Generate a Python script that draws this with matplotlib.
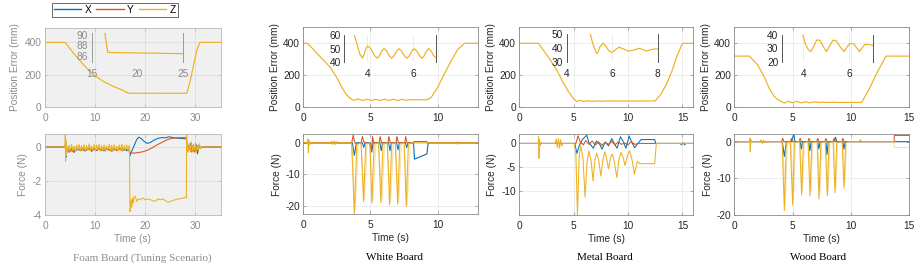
import numpy as np
import matplotlib
matplotlib.use("Agg")
import matplotlib.pyplot as plt
from matplotlib.lines import Line2D

plt.rcParams['font.family'] = ['Liberation Sans', 'DejaVu Sans']
plt.rcParams['axes.unicode_minus'] = False

C_X = '#0072BD'
C_Y = '#D95319'
C_Z = '#EDB120'

W, H = 919, 268

# ---------------- foam board (tuning scenario) ----------------
foam_pos_z = [(0, 400), (4.0, 400), (5.67, 334), (7.67, 262), (9.67, 200), (11.67, 159),
              (13.67, 128), (15.67, 103), (16.38, 91), (16.75, 86.6), (18, 86.55), (20, 86.5),
              (22, 86.45), (25, 86.35), (28.3, 86.3), (29.0, 169), (30.3, 355), (30.9, 400), (35, 400)]

foam_fx_pre = [(0, 0.0), (4.0, 0.0), (4.1, 0.3), (4.2, -0.6)]
foam_fx_noise = [-0.05, -0.2, -0.1, -0.25, -0.12, -0.18, -0.08, -0.22, -0.15, -0.1, -0.25, -0.12, -0.2,
                 -0.08, -0.18, -0.22, -0.1, -0.16, -0.24, -0.12, -0.2, -0.1, -0.18, -0.14, -0.22, -0.15]
foam_fx_post = [(16.9, -0.55), (17.2, -0.3), (17.8, 0.1), (18.3, 0.45), (18.7, 0.58), (19.2, 0.5),
                (19.7, 0.35), (20.3, 0.22), (20.9, 0.25), (21.6, 0.38), (22.4, 0.5), (23.2, 0.55),
                (24.0, 0.55), (24.8, 0.6), (25.6, 0.55), (26.5, 0.52), (27.4, 0.5), (28.2, 0.48), (28.3, 0.0)]
foam_fx_noise2 = [0.15, -0.1, 0.2, -0.15, 0.1, -0.2, 0.15, -0.4, 0.1, -0.1]

foam_fy_pre = [(0, 0.0), (4.0, 0.0), (4.15, -0.2)]
foam_fy_noise = [-0.25, -0.3, -0.2, -0.32, -0.15, -0.12, -0.2, -0.1, -0.18, -0.08, -0.15, -0.12, -0.2,
                 -0.1, -0.16, -0.08, -0.14, -0.18, -0.1, -0.15, -0.2, -0.12, -0.1, -0.18, -0.14, -0.2]
foam_fy_post = [(16.9, -0.3), (17.5, -0.36), (18.5, -0.33), (19.5, -0.28), (20.5, -0.18), (21.5, -0.02),
                (22.5, 0.15), (23.5, 0.3), (24.5, 0.45), (25.5, 0.52), (26.5, 0.55), (28.2, 0.55), (28.3, 0.0)]
foam_fy_noise2 = [-0.1, 0.1, -0.2, -0.3, -0.15, -0.3, -0.1, -0.25, 0.0, -0.05]

foam_fz_pre = [(0, 0.0), (4.0, 0.0), (4.05, 0.8), (4.1, -0.84), (4.15, 0.45), (4.2, -0.5), (4.25, 0.2)]
foam_fz_noise = [0.18, -0.25, 0.1, -0.22, 0.15, -0.2, 0.05, -0.26, 0.12, -0.18, 0.16, -0.24, 0.08,
                 -0.2, 0.14, -0.27, 0.1, -0.19, 0.18, -0.23, 0.06, -0.21, 0.15, -0.25, 0.11, -0.17,
                 0.17, -0.24, 0.08, -0.22, 0.13, -0.26, 0.07, -0.2, 0.16, -0.23, 0.1, -0.25, 0.14,
                 -0.19, 0.05, -0.24, 0.12, -0.21, 0.17, -0.26, 0.09, -0.2, 0.13, -0.23, 0.1]
foam_fz_post = [(16.85, -0.2), (16.95, -3.8), (17.05, -3.6), (17.15, -3.1), (17.3, -3.55), (17.45, -3.0),
                (17.6, -3.3), (17.8, -2.9), (18.05, -2.95), (18.3, -3.2), (18.6, -3.05), (19.0, -3.1),
                (19.5, -3.0), (20.0, -3.1), (20.5, -3.05), (21.0, -3.1), (21.5, -3.15), (22.0, -3.2),
                (22.5, -3.05), (23.0, -3.1), (23.5, -3.05), (24.0, -3.15), (24.5, -3.25), (25.0, -3.2),
                (25.5, -3.15), (26.0, -3.1), (26.5, -3.05), (27.0, -3.05), (27.5, -3.0), (28.0, -2.95),
                (28.2, -3.0), (28.25, 0.7), (28.32, -0.3)]
foam_fz_noise2 = [0.25, -0.3, 0.2, -0.15, 0.3, -0.25, 0.15, -0.2, 0.25, -0.3, 0.1, -0.15, 0.2, -0.1]
foam_tail = [(31.2, 0.0), (35, 0.0)]

# ---------------- white board ----------------
white_pos_z = [(0, 400), (0.3, 400), (0.6, 375), (1.0, 338), (1.5, 295), (2.0, 250), (2.5, 185),
               (2.9, 120), (3.2, 80), (3.44, 60), (3.56, 53), (3.68, 46), (3.79, 43), (3.87, 46),
               (3.95, 50.5), (4.02, 52), (4.16, 50), (4.31, 45), (4.45, 43), (4.55, 45), (4.64, 48.5),
               (4.74, 50), (4.85, 48.2), (4.96, 44.8), (5.07, 43), (5.18, 44.8), (5.28, 48.2), (5.39, 50),
               (5.5, 48.2), (5.62, 44.8), (5.73, 43), (5.84, 44.8), (5.94, 48.2), (6.05, 50), (6.16, 48.2),
               (6.28, 44.8), (6.39, 43), (6.49, 44.8), (6.58, 48.2), (6.68, 50), (6.79, 48.2), (6.9, 44.8),
               (7.01, 43), (7.12, 44.8), (7.23, 48.2), (7.34, 49.5), (7.45, 48), (7.56, 45), (7.68, 44),
               (7.8, 46), (8.0, 48), (8.3, 46.5), (8.7, 47.5), (9.2, 47), (9.5, 60), (10.0, 125),
               (10.5, 210), (11.0, 290), (11.5, 362), (12.0, 400), (13, 400)]
white_fx = [(0, 0), (3.65, 0), (3.8, -4.0), (3.95, 0), (4.4, 0), (4.5, -1.5), (4.6, 0), (5.0, 0),
            (5.1, -2.8), (5.2, 0), (5.7, 0), (5.8, -2.5), (5.9, 0), (6.35, 0), (6.45, -2.5), (6.55, 0),
            (6.95, 0), (7.05, -2.2), (7.15, 0), (7.6, 0), (7.7, -1.5), (7.8, 0), (8.2, 0), (8.28, -5.2),
            (9.2, -3.5), (9.3, 0), (13, 0)]
white_fy = [(0, 0), (3.6, 0), (3.72, 2.5), (3.8, 0.5), (3.9, -0.3), (4.3, 0), (4.4, 2.0), (4.5, 0.3),
            (4.7, 0), (5.0, -0.5), (5.08, -3.0), (5.15, 2.0), (5.25, 0), (5.65, 0), (5.72, 2.0), (5.82, 0),
            (6.3, 0), (6.37, 2.0), (6.47, 0), (6.9, 0), (6.97, 2.0), (7.07, 0), (7.55, 0), (7.62, 2.0),
            (7.72, 0), (8.2, 0), (8.25, 0.4), (9.2, 0.4), (9.25, 0), (13, 0)]
white_fz = [(0, 0), (0.3, 0), (0.34, 1.2), (0.38, -3.2), (0.42, 0.8), (0.48, -0.6), (0.55, 0.2),
            (0.65, 0), (2.0, 0), (2.1, 0.5), (2.2, -0.6), (2.3, 0.7), (2.4, -0.5), (2.5, 0.4), (2.6, 0),
            (3.6, 0), (3.8, -22.7), (3.98, -0.5), (4.3, 0), (4.48, -18.6), (4.65, -0.3), (4.95, 0),
            (5.1, -19.2), (5.27, -0.3), (5.6, 0), (5.77, -19.0), (5.93, -0.3), (6.25, 0), (6.42, -19.7),
            (6.58, -0.3), (6.85, 0), (7.02, -19.5), (7.18, -0.3), (7.5, 0), (7.66, -20.2), (7.82, -0.3),
            (8.1, 0), (11.3, 0), (11.4, -0.4), (11.5, 0.3), (11.6, -0.4), (11.7, 0), (13, 0)]
white_fz_raw = [(0, 0), (3.6, 0), (3.85, -21.5), (4.1, 0), (4.3, 0), (4.55, -18), (4.75, 0), (4.95, 0),
                (5.18, -18.5), (5.4, 0), (5.6, 0), (5.85, -18.5), (6.05, 0), (6.25, 0), (6.5, -19),
                (6.7, 0), (6.85, 0), (7.1, -19), (7.3, 0), (7.5, 0), (7.74, -19.5), (7.95, 0), (8.2, 0),
                (8.22, -5.2), (9.2, -3.6), (9.22, 0), (13, 0)]

# ---------------- metal board ----------------
metal_pos_z = [(0, 400), (1.75, 400), (2.5, 330), (3.0, 280), (3.5, 225), (4.0, 160), (4.5, 100),
               (5.04, 50), (5.15, 43), (5.31, 36), (5.38, 37), (5.45, 40.5), (5.6, 43.5), (5.72, 41.5),
               (5.85, 38), (5.97, 36.8), (6.1, 38.2), (6.3, 40.6), (6.5, 39.3), (6.7, 37.7), (6.95, 38.5),
               (7.2, 39.8), (7.35, 38.8), (7.5, 37.8), (7.65, 38.5), (7.8, 39.2), (8.0, 39.3), (9.0, 39.5),
               (10.0, 39), (11.0, 39.5), (12.5, 40), (13.0, 80), (13.5, 140), (14.0, 220), (14.5, 320),
               (15.0, 400), (16, 400)]
metal_fx = [(0, 0), (1.8, 0), (1.85, -0.4), (1.95, 0), (5.1, 0), (5.3, -2.1), (5.5, -0.5), (5.8, 0.8),
            (6.2, 1.7), (6.4, 0.2), (6.8, -1.0), (7.1, 0.5), (7.4, -0.2), (7.6, -1.2), (7.9, 0.3),
            (8.2, -0.5), (8.5, 1.0), (8.8, -0.3), (9.0, -1.0), (9.3, 1.4), (9.6, 0.2), (9.8, -1.0),
            (10.1, 1.5), (10.4, 0.0), (10.6, -0.9), (10.9, 0.0), (11.2, 0.8), (12.45, 0.8), (12.55, 0),
            (14.8, 0), (14.9, -0.3), (15.1, 0.2), (15.2, -0.3), (15.3, 0), (16, 0)]
metal_fy = [(0, 0), (5.2, 0), (5.4, 1.6), (5.6, 0.3), (5.9, -0.3), (6.1, 0.6), (6.4, -0.2), (6.7, 0.5),
            (7.0, -0.3), (7.3, 0.3), (7.6, -0.4), (7.9, 0.2), (8.2, -0.2), (8.5, 0.4), (8.8, -0.3),
            (9.1, 0.3), (9.4, -0.2), (9.7, 0.1), (10.0, -0.3), (10.3, 0.4), (10.6, -0.2), (11.0, 0.0),
            (12.5, 0), (16, 0)]
metal_fz = [(0, 0), (1.75, 0), (1.78, 1.4), (1.82, -3.1), (1.86, 0.8), (1.92, -0.5), (2.0, 0.2),
            (2.1, 0), (3.3, 0), (3.4, 0.9), (3.5, -0.9), (3.6, 1.0), (3.7, -1.0), (3.8, 0.8), (3.9, -0.5),
            (4.0, 0), (5.05, 0), (5.2, -2.0), (5.35, -14.9), (5.5, -3.0), (5.65, -0.5), (5.85, -3.0),
            (6.05, -11.2), (6.22, -4.0), (6.4, -1.6), (6.6, -3.5), (6.78, -7.8), (6.95, -3.5),
            (7.12, -2.0), (7.3, -3.5), (7.5, -6.8), (7.68, -3.5), (7.85, -1.8), (8.02, -3.0),
            (8.2, -5.3), (8.38, -3.0), (8.55, -2.2), (8.75, -4.0), (8.97, -7.1), (9.15, -3.5),
            (9.35, -1.9), (9.55, -3.0), (9.73, -4.6), (9.95, -2.5), (10.15, -1.5), (10.38, -3.5),
            (10.58, -6.4), (10.85, -3.8), (11.1, -4.2), (12.45, -4.2), (12.6, 0), (14.9, 0), (15.0, -0.3),
            (15.1, 0.2), (15.2, 0), (16, 0)]

# ---------------- wood board ----------------
wood_pos_z = [(0, 320), (1.3, 320), (2.0, 265), (2.5, 200), (3.0, 118), (3.4, 70), (3.7, 50),
              (3.97, 40), (4.1, 33), (4.22, 29), (4.33, 27.7), (4.45, 31.5), (4.58, 36.2), (4.72, 36.2),
              (4.85, 32), (5.01, 27.7), (5.15, 32), (5.3, 36.2), (5.45, 35.5), (5.62, 31), (5.78, 27.7),
              (5.9, 31), (6.03, 33.6), (6.2, 33.5), (6.33, 30.5), (6.46, 27.7), (6.57, 30.5), (6.68, 33),
              (6.85, 33), (7.04, 32.3), (7.3, 30), (7.6, 32), (8.0, 30), (8.5, 31.5), (9.0, 30),
              (10.0, 30.5), (10.9, 30), (11.5, 105), (12.3, 225), (13.0, 320), (15, 320)]
wood_fx = [(0, 0), (4.1, 0), (4.3, -4.0), (4.45, 0), (4.9, 0), (5.1, 2.1), (5.2, 0), (5.65, 0),
           (5.75, -2.0), (5.85, 0), (6.38, 0), (6.48, -2.5), (6.58, 0), (7.15, 0), (7.25, -2.0),
           (7.35, 0), (7.85, 0), (7.95, -3.5), (8.05, 0), (8.55, 0), (8.68, 1.2), (8.78, 0), (9.3, 0),
           (9.4, -2.0), (9.5, 0), (15, 0)]
wood_fy = [(0, 0), (4.05, 0), (4.15, 0.9), (4.25, 0), (4.8, 0), (4.9, 0.9), (5.0, 0), (5.55, 0),
           (5.65, 0.9), (5.75, 0), (6.3, 0), (6.4, 0.9), (6.5, 0), (7.05, 0), (7.15, 0.9), (7.25, 0),
           (7.75, 0), (7.85, 0.9), (7.95, 0), (8.45, 0), (8.55, 0.9), (8.65, 0), (9.2, 0), (9.3, 0.9),
           (9.4, 0), (13.7, 0), (13.72, 1.7), (15, 1.7)]
wood_fz = [(0, 0), (1.3, 0), (1.33, 1.0), (1.37, -2.8), (1.42, 0.6), (1.5, 0), (2.2, 0), (2.3, 0.5),
           (2.4, -0.5), (2.5, 0.4), (2.6, -0.3), (2.7, 0), (4.1, 0), (4.29, -18.8), (4.45, -0.3),
           (4.8, 0), (5.0, -17.3), (5.15, -0.3), (5.6, 0), (5.77, -14.5), (5.92, -0.3), (6.32, 0),
           (6.49, -14.8), (6.64, -0.3), (7.1, 0), (7.26, -15.6), (7.42, -0.3), (7.8, 0), (7.97, -14.7),
           (8.12, -0.3), (8.47, 0), (8.63, -13.9), (8.78, -0.3), (9.24, 0), (9.4, -12.7), (9.55, -0.3),
           (9.8, 0), (10.7, 0), (10.8, 0.5), (10.9, 0), (13.7, 0)]
wood_fz_raw = [(0, 0), (4.15, 0), (4.36, -17.5), (4.55, 0), (4.85, 0), (5.07, -16), (5.25, 0),
               (5.65, 0), (5.84, -13.5), (6.0, 0), (6.37, 0), (6.56, -13.8), (6.72, 0), (7.15, 0),
               (7.33, -14.5), (7.5, 0), (7.85, 0), (8.04, -13.7), (8.2, 0), (8.52, 0), (8.7, -13),
               (8.86, 0), (9.3, 0), (9.47, -11.8), (9.62, 0), (13.7, 0), (13.72, -1.6), (15, -1.6)]

inset_ticks = {'foam': ([15, 20, 25], [86, 88, 90]), 'white': ([4, 6], [40, 50, 60]),
               'metal': ([4, 6, 8], [30, 40, 50]), 'wood': ([4, 6], [20, 30, 40])}


def box(x0, x1, y0, y1):
    return [x0 / W, 1 - y1 / H, (x1 - x0) / W, (y1 - y0) / H]


def trace(ax, pts, color, lw=0.75, alpha=1.0):
    t, v = zip(*pts)
    ax.plot(t, v, color=color, lw=lw, alpha=alpha, solid_joinstyle='round')


def series(pre, t0, t1, noise, post):
    # pre/post are (t, value) pairs; noise samples are evenly spaced between t0 and t1
    pts = list(pre) + list(zip(np.linspace(t0, t1, len(noise)), noise)) + list(post)
    return pts


def style_main(ax, xlim, ylim, xticks, yticks, faded=False):
    txt = '#8c8c8c' if faded else '#262626'
    edge = '#b8b8b8' if faded else '#8a8a8a'
    ax.set_facecolor('#f0f0f0' if faded else 'white')
    ax.set_xlim(xlim)
    ax.set_ylim(ylim)
    ax.set_xticks(xticks)
    ax.set_yticks(yticks)
    ax.grid(True, color='#dadada' if faded else '#e6e6e6', lw=0.5)
    ax.set_axisbelow(True)
    for s in ax.spines.values():
        s.set_color(edge)
        s.set_linewidth(0.6)
    ax.tick_params(direction='in', length=2.5, width=0.5, color=edge, labelcolor=txt,
                   labelsize=7.3, top=True, right=True)
    ax.tick_params(axis='x', pad=4.2)
    ax.tick_params(axis='y', pad=2.5)
    return txt


def style_inset(ax, xlim, ylim, xticks, yticks, faded=False, xgrid=True):
    txt = '#8c8c8c' if faded else '#262626'
    ax.set_facecolor('none')
    ax.set_xlim(xlim)
    ax.set_ylim(ylim)
    ax.set_xticks(xticks)
    ax.set_yticks(yticks)
    for side in ['top', 'bottom']:
        ax.spines[side].set_visible(False)
    for side in ['left', 'right']:
        ax.spines[side].set_color('#9a9a9a' if faded else '#555555')
        ax.spines[side].set_linewidth(0.7)
    if xgrid:
        ax.grid(True, axis='x', color='#e6e6e6', lw=0.5)
    ax.tick_params(length=0, labelsize=7.3, labelcolor=txt)
    ax.tick_params(axis='x', pad=5)
    ax.tick_params(axis='y', pad=2.5)


fig = plt.figure(figsize=(W / 100, H / 100), dpi=100)

panels = [
    dict(name='foam', x=(45, 220.5), top_y=(27.7, 107.3), bot_y=(134.3, 215), xlim=(0, 35),
         xticks=[0, 10, 20, 30], plim=(0, 490), flim=(-4, 0.75), fticks=[0, -2, -4],
         inset=(91.7, 183.3, 33.3, 61.7), ixlim=(15, 25), iylim=(84.8, 90.3),
         title='Foam Board (Tuning Scenario)', tx=142, plab=24.5, flab=16.5, faded=True),
    dict(name='white', x=(303.3, 478), top_y=(27.3, 107.3), bot_y=(134.3, 214.3), xlim=(0, 13),
         xticks=[0, 5, 10], plim=(0, 500), flim=(-22.7, 2.7), fticks=[0, -10, -20],
         inset=(344.3, 436, 35, 62.3), ixlim=(3, 7), iylim=(40, 60),
         title='White Board', tx=394, plab=23.5, flab=21.5, faded=False),
    dict(name='metal', x=(519.3, 693.3), top_y=(27.3, 107.3), bot_y=(134.3, 215), xlim=(0, 16),
         xticks=[0, 5, 10, 15], plim=(0, 500), flim=(-14.9, 1.9), fticks=[0, -5, -10],
         inset=(566.7, 657.7, 34.3, 61.7), ixlim=(4, 8), iylim=(30, 50),
         title='Metal Board', tx=604.5, plab=23.5, flab=22.5, faded=False),
    dict(name='wood', x=(734.3, 909.3), top_y=(27.3, 107.3), bot_y=(134.3, 215), xlim=(0, 15),
         xticks=[0, 5, 10, 15], plim=(0, 500), flim=(-20, 2.0), fticks=[0, -10, -20],
         inset=(781.7, 873.3, 35, 62), ixlim=(3.05, 7.06), iylim=(20, 40),
         title='Wood Board', tx=818, plab=23.5, flab=21.5, faded=False),
]

foam_fx = series(foam_fx_pre, 4.3, 16.8, foam_fx_noise, foam_fx_post)
foam_fx += list(zip(np.linspace(28.4, 31, len(foam_fx_noise2)), foam_fx_noise2)) + foam_tail
foam_fy = series(foam_fy_pre, 4.3, 16.8, foam_fy_noise, foam_fy_post)
foam_fy += list(zip(np.linspace(28.4, 31, len(foam_fy_noise2)), foam_fy_noise2)) + foam_tail
foam_fz = series(foam_fz_pre, 4.3, 16.8, foam_fz_noise, foam_fz_post)
foam_fz += list(zip(np.linspace(28.4, 31, len(foam_fz_noise2)), foam_fz_noise2)) + foam_tail

pos_data = {'foam': foam_pos_z, 'white': white_pos_z, 'metal': metal_pos_z, 'wood': wood_pos_z}
force_data = {'foam': (foam_fx, foam_fy, foam_fz, None),
              'white': (white_fx, white_fy, white_fz, white_fz_raw),
              'metal': (metal_fx, metal_fy, metal_fz, None),
              'wood': (wood_fx, wood_fy, wood_fz, wood_fz_raw)}

for p in panels:
    x0, x1 = p['x']
    wpx = x1 - x0

    # position error
    ax = fig.add_axes(box(x0, x1, *p['top_y']))
    txt = style_main(ax, p['xlim'], p['plim'], p['xticks'], [0, 200, 400], p['faded'])
    trace(ax, pos_data[p['name']], C_Z, lw=0.85)
    ax.set_ylabel('Position Error (mm)', fontsize=7.3, color=txt)
    ax.yaxis.set_label_coords(-p['plab'] / wpx, 0.5)

    ins = fig.add_axes(box(*p['inset']))
    xt, yt = inset_ticks[p['name']]
    style_inset(ins, p['ixlim'], p['iylim'], xt, yt, p['faded'], xgrid=not p['faded'])
    trace(ins, pos_data[p['name']], C_Z, lw=0.85)

    # force
    axf = fig.add_axes(box(x0, x1, *p['bot_y']))
    style_main(axf, p['xlim'], p['flim'], p['xticks'], p['fticks'], p['faded'])
    fx, fy, fz, fz_raw = force_data[p['name']]
    if fz_raw is not None:
        trace(axf, fz_raw, C_Z, alpha=0.4)
    trace(axf, fx, C_X)
    trace(axf, fy, C_Y)
    trace(axf, fz, C_Z)
    axf.set_ylabel('Force (N)', fontsize=7.3, color=txt)
    axf.yaxis.set_label_coords(-p['flab'] / wpx, 0.5)
    hpx = p['bot_y'][1] - p['bot_y'][0]
    axf.set_xlabel('Time (s)', fontsize=7.3, color=txt)
    axf.xaxis.set_label_coords(0.5, -18.5 / hpx)

    fig.text(p['tx'] / W, 1 - 257.7 / H, p['title'], ha='center', va='center', fontsize=8,
             family='Liberation Serif', color='#8c8c8c' if p['faded'] else 'black')

handles = [Line2D([], [], color=c, lw=1.0) for c in (C_X, C_Y, C_Z)]
leg = fig.legend(handles, ['X', 'Y', 'Z'], loc='upper left', bbox_to_anchor=(52 / W, 1 - 3 / H),
                 ncol=3, fontsize=7.3, frameon=True, fancybox=False, borderpad=0.2,
                 handlelength=2.7, handletextpad=0.35, columnspacing=0.45, borderaxespad=0)
leg.get_frame().set_edgecolor('#262626')
leg.get_frame().set_linewidth(0.6)

fig.savefig('out.png', dpi=100)
